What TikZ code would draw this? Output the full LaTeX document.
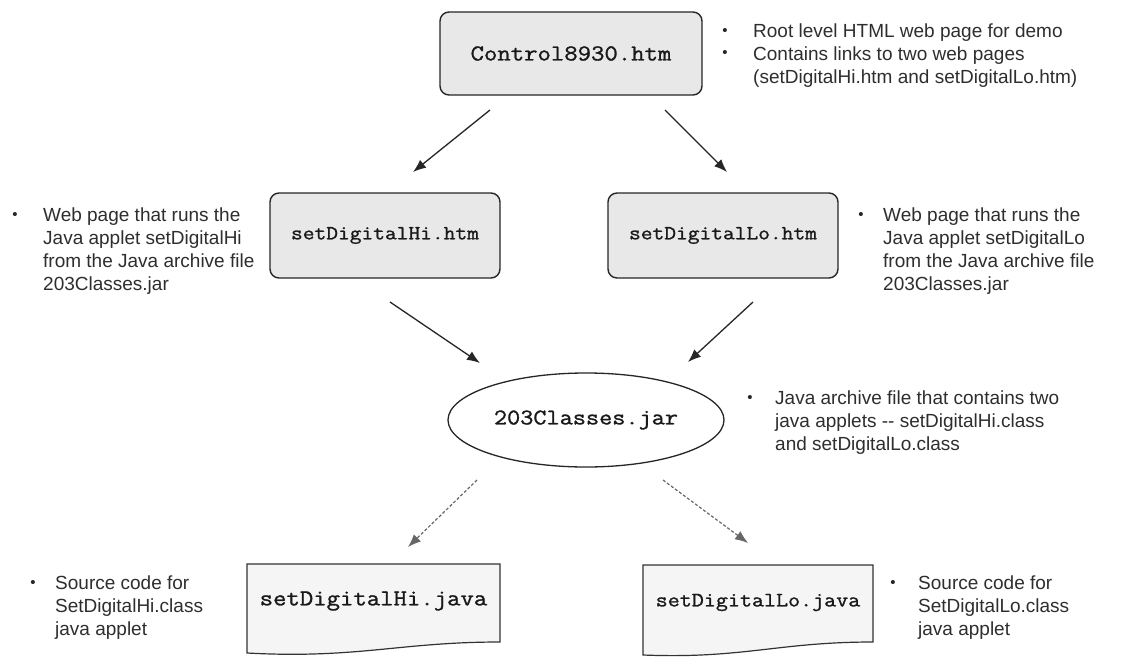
\documentclass[tikz,border=0pt]{standalone}
\usepackage{fontspec}
\setmainfont{Liberation Sans}
\newfontfamily\codefont{Latin Modern Mono}[FakeStretch=1.14, FakeBold=1.2]
\usetikzlibrary{shapes.geometric,arrows.meta}
\begin{document}
\begin{tikzpicture}[x=1pt,y=-1pt,
  htmbox/.style={draw=black!85, line width=1.4pt, rounded corners=9pt, fill=black!9, inner sep=0pt, outer sep=0pt},
  javabox/.style={inner sep=0pt, outer sep=0pt},
  docline/.style={draw=black!80, line width=1.2pt, fill=black!4},
  jarshape/.style={ellipse, draw=black!85, line width=1.3pt, fill=white, inner sep=0pt, outer sep=0pt},
  code/.style={font=\codefont\fontsize{#1}{#1}\selectfont, text=black!90},
  lbl/.style={font=\fontsize{19}{22.7}\selectfont, align=left, anchor=north west, inner sep=0pt, text=black!82},
  bul/.style={font=\fontsize{15}{15}\selectfont, inner sep=0pt, text=black!85},
  arr/.style={line width=1.3pt, draw=black!85, -{Latex[length=13pt,width=10pt]}},
  darr/.style={line width=1.2pt, draw=black!60, dash pattern=on 3pt off 2pt, -{Latex[length=13pt,width=10pt]}}
]
\useasboundingbox (0,0) rectangle (1144,659);
\fill[white] (0,0) rectangle (1144,659);

% main nodes
\node[htmbox, minimum width=262pt, minimum height=83pt] (top) at (571,53.5) {};
\node[code=22.8] (toptxt) at (top.center) {Control8930.htm};

\node[htmbox, minimum width=230pt, minimum height=85pt] (hi) at (385,235.5) {};
\node[code=20] (hitxt) at (hi.center) {setDigitalHi.htm};

\node[htmbox, minimum width=230pt, minimum height=85pt] (lo) at (723,235.5) {};
\node[code=20] (lotxt) at (lo.center) {setDigitalLo.htm};

\node[jarshape, minimum width=276pt, minimum height=94pt] (jar) at (586,420) {};
\node[code=22.4] (jartxt) at (jar.center) {203Classes.jar};

\node[javabox, minimum width=253pt, minimum height=78pt] (hij) at (373.5,603) {};
\path[docline] (hij.north west) -- (hij.north east) -- (hij.south east)
  .. controls ([shift={(-100,0)}]hij.south east) and ([shift={(110,17)}]hij.south west) .. ([shift={(0,11)}]hij.south west) -- cycle;
\node[code=22.8] (hijtxt) at ([yshift=2pt]hij.center) {setDigitalHi.java};

\node[javabox, minimum width=230pt, minimum height=77pt] (loj) at (758,603.5) {};
\path[docline] (loj.north west) -- (loj.north east) -- (loj.south east)
  .. controls ([shift={(-95,0)}]loj.south east) and ([shift={(100,17)}]loj.south west) .. ([shift={(0,13)}]loj.south west) -- cycle;
\node[code=20.5] (lojtxt) at ([yshift=1pt]loj.center) {setDigitalLo.java};

% connectors
\draw[arr] ([shift={(-81,15)}]top.south) -- ([shift={(28,-21)}]hi.north);
\draw[arr] ([shift={(94,15)}]top.south) -- ([shift={(4,-21)}]lo.north);
\draw[arr] ([shift={(5,24)}]hi.south) -- ([shift={(-106,-10)}]jar.north);
\draw[arr] ([shift={(30,24)}]lo.south) -- ([shift={(102,-11)}]jar.north);
\draw[darr] ([shift={(-109,13)}]jar.south) -- ([shift={(34.5,-17)}]hij.north);
\draw[darr] ([shift={(77,13)}]jar.south) -- ([shift={(-10,-22)}]loj.north);

% annotations
\node[bul] (b1) at (725,32) {•};
\node[bul] (b2) at (725,54) {•};
\node[lbl] (t1) at (753,24) {Root level HTML web page for demo\\Contains links to two web pages\\(setDigitalHi.htm and setDigitalLo.htm)};

\node[bul] (b3) at (15,216) {•};
\node[lbl] (t3) at (43,208) {Web page that runs the\\Java applet setDigitalHi\\from the Java archive file\\203Classes.jar};

\node[bul] (b4) at (861,216) {•};
\node[lbl] (t4) at (883,208) {Web page that runs the\\Java applet setDigitalLo\\from the Java archive file\\203Classes.jar};

\node[bul] (b5) at (750,399) {•};
\node[lbl] (t5) at (775,391) {Java archive file that contains two\\java applets -{}- setDigitalHi.class\\and setDigitalLo.class};

\node[bul] (b6) at (33,584) {•};
\node[lbl] (t6) at (55,576) {Source code for\\SetDigitalHi.class\\java applet};

\node[bul] (b7) at (893,584) {•};
\node[lbl] (t7) at (918,576) {Source code for\\SetDigitalLo.class\\java applet};
\end{tikzpicture}
\end{document}
